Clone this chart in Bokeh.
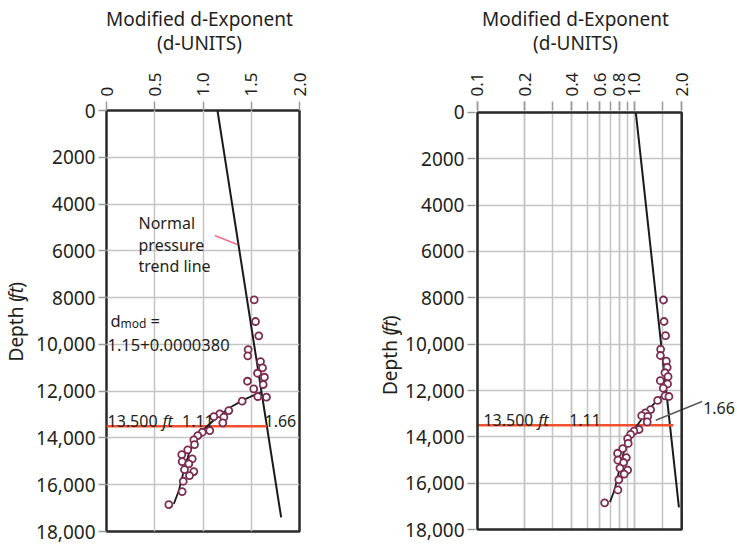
import math

from bokeh.embed import file_html
from bokeh.layouts import column, row
from bokeh.models import BoxAnnotation, CustomJSTickFormatter, FixedTicker, Grid, Label, Range1d
from bokeh.plotting import figure
from bokeh.resources import INLINE

# ---- data -------------------------------------------------------------
# measured modified d-exponent readings
depth_ft = [8094, 9022, 9634, 10220, 10489, 10733, 11002, 11233, 11404, 11575,
            11716, 11900, 12229, 12259, 12430, 12828, 12969, 13085, 13114, 13354,
            13683, 13756, 13897, 14081, 14282, 14509, 14709, 14893, 15009, 15107,
            15351, 15436, 15607, 15851, 16292, 16847]
d_mod = [1.531, 1.544, 1.578, 1.468, 1.464, 1.596, 1.617, 1.565, 1.637, 1.461,
         1.624, 1.526, 1.568, 1.658, 1.406, 1.267, 1.174, 1.112, 1.216, 1.205,
         1.070, 0.992, 0.946, 0.905, 0.912, 0.842, 0.780, 0.888, 0.784, 0.853,
         0.808, 0.905, 0.860, 0.795, 0.784, 0.646]

# fitted curve through the overpressured section
curve_depth = [12045, 12114, 12371, 12687, 13114, 13542, 14038, 14680, 15394, 16249, 16817]
curve_d = [1.60, 1.56, 1.42, 1.285, 1.147, 1.03, 0.922, 0.853, 0.802, 0.75, 0.698]

# normal pressure trend lines (linear panel, log panel)
trend_lin_depth = [0, 17400]
trend_lin_d = [1.15, 1.81]
trend_log_depth = [0, 17040]
trend_log_d = [1.02, 1.92]

# pressure-top marker at 13,500 ft
marker_depth = 13500
marker_lin_d = [0.0, 1.66]
marker_log_d = [0.1, 1.77]

# axis extents and tick values
depth_span = [0, 18000]
lin_span = [0.0, 2.0]
log_span = [0.1, 2.0]
depth_ticks = [0, 2000, 4000, 6000, 8000, 10000, 12000, 14000, 16000, 18000]
lin_ticks = [0.0, 0.5, 1.0, 1.5, 2.0]
log_ticks = [0.1, 0.2, 0.4, 0.6, 0.8, 1.0, 2.0]
log_grid = [0.1, 0.2, 0.3, 0.4, 0.5, 0.6, 0.7, 0.8, 0.9, 1.0, 1.5, 2.0]

# ---- page geometry (pixels) ------------------------------------------------
FONT = "Noto Sans"
INK = "#231f20"
GRID = "#c4c4c4"
FRAME_COLOR = "#2a2a2a"
PT_COLOR = "#7b2d50"
RED = "#f1512f"

PAGE_W, PAGE_H = 737, 545
HEAD_H = 55                       # strip holding the two-line titles
ROW_H = PAGE_H - HEAD_H
FRAME_TOP = 110                   # page y of the plot boxes' top edge
FRAME_H = 421

W_D1 = 31                         # strip for left depth label
L_LEFT, L_FRAME, L_RIGHT = 75, 193, 20
L_X0 = W_D1 + L_LEFT              # page x of left box

R_X0 = 476                        # page x of the log box (0.1)
R_BOX = 205                       # page width of the log box (0.1 .. 2.0)
R_LEFT = 72
R_CANVAS_X0 = R_X0 - 2            # log panel canvas starts 2 px outside its box
D2_X0 = W_D1 + L_LEFT + L_FRAME + L_RIGHT
W_D2 = R_CANVAS_X0 - R_LEFT - D2_X0


def lx(px):
    return (px - L_X0) / L_FRAME * (lin_span[1] - lin_span[0])


def rx(px):
    return 10 ** (math.log10(log_span[0]) +
                  (px - R_X0) / R_BOX * math.log10(log_span[1] / log_span[0]))


def dy(py):
    return (py - FRAME_TOP) / FRAME_H * (depth_span[1] - depth_span[0])


def strip(width, height, x0, y0):
    """Blank figure whose data coordinates are page pixels."""
    f = figure(width=width, height=height,
               x_range=Range1d(x0, x0 + width), y_range=Range1d(y0 + height, y0),
               x_axis_type=None, y_axis_type=None,
               output_backend="svg", toolbar_location=None,
               min_border_left=0, min_border_right=0,
               min_border_top=0, min_border_bottom=0,
               background_fill_color="white", border_fill_color="white")
    f.outline_line_color = None
    return f


def add_text(p, text, x, y, size="16px", align="left", baseline="alphabetic",
             angle=0.0, style="normal", color=INK):
    p.add_layout(Label(x=x, y=y, text=text, text_font=FONT, text_font_size=size,
                       text_align=align, text_baseline=baseline, angle=angle,
                       text_font_style=style, text_color=color))


def add_depth_label(p, x_px, y_mid):
    # "Depth (" upright, "ft" italic, ")" upright; read bottom to top
    start = y_mid + 42.5
    kw = dict(size="19px", align="center", baseline="middle", angle=math.pi / 2)
    add_text(p, "Depth (", x_px, start - 32.5, **kw)
    add_text(p, "ft", x_px, start - 74, style="italic", **kw)
    add_text(p, ")", x_px, start - 83.5, **kw)


depth_fmt = CustomJSTickFormatter(code="""
const n = Math.round(tick);
const s = String(n);
return n < 10000 ? s : s.slice(0, s.length - 3) + "," + s.slice(s.length - 3);
""")


def style_axes(p):
    xax, yax = p.xaxis[0], p.yaxis[0]
    for ax in (xax, yax):
        ax.axis_line_color = None
        ax.major_tick_in = 0
        ax.minor_tick_in = 0
        ax.major_tick_line_color = "#9a9a9a"
        ax.major_tick_line_width = 1.5
        ax.major_label_text_font = FONT
        ax.major_label_text_color = INK
    yax.ticker = FixedTicker(ticks=depth_ticks)
    yax.formatter = depth_fmt
    yax.major_tick_out = 8
    yax.major_label_standoff = 3
    yax.major_label_text_font_size = "19px"
    xax.major_tick_out = 9
    xax.major_label_standoff = 5
    xax.major_label_orientation = math.pi / 2
    xax.major_label_text_font_size = "17px"
    p.xgrid.grid_line_color = GRID
    p.xgrid.grid_line_width = 1.5
    p.ygrid.grid_line_color = GRID
    p.ygrid.grid_line_width = 1.5


# ---- titles ---------------------------------------------------------------------
head = strip(PAGE_W, HEAD_H, 0, 0)
for cx in (199, 575):
    add_text(head, "Modified d-Exponent", cx, 18, size="19px", align="center",
             baseline="middle")
    add_text(head, "(d-UNITS)", cx, 42, size="19px", align="center", baseline="middle")

# ---- depth labels ---------------------------------------------------------------
d1 = strip(W_D1, ROW_H, 0, HEAD_H)
add_depth_label(d1, 15.5, 299)
d2 = strip(W_D2, ROW_H, D2_X0, HEAD_H)
add_depth_label(d2, D2_X0 + W_D2 - 13, 338)

# ---- linear panel -------------------------------------------------------------
p1 = figure(width=L_LEFT + L_FRAME + L_RIGHT, height=ROW_H,
            x_range=Range1d(*lin_span), y_range=Range1d(depth_span[1], depth_span[0]),
            x_axis_location="above", output_backend="svg", toolbar_location=None,
            min_border_left=L_LEFT, min_border_right=L_RIGHT,
            min_border_top=FRAME_TOP - HEAD_H,
            min_border_bottom=ROW_H - (FRAME_TOP - HEAD_H) - FRAME_H,
            background_fill_color="white", border_fill_color="white")
p1.outline_line_color = FRAME_COLOR
p1.outline_line_width = 2.5
style_axes(p1)
p1.xaxis.ticker = FixedTicker(ticks=lin_ticks)
p1.xaxis.formatter = CustomJSTickFormatter(code='return tick === 0 ? "0" : tick.toFixed(1);')

p1.line(trend_lin_d, trend_lin_depth, line_color="#1a1a1a", line_width=2)
p1.line(marker_lin_d, [marker_depth, marker_depth], line_color=RED, line_width=2.5)
p1.line(curve_d, curve_depth, line_color="#1a1a1a", line_width=1.8)
p1.scatter(d_mod, depth_ft, marker="circle", size=7, fill_color="white",
           line_color=PT_COLOR, line_width=1.8)
p1.line([lx(214.3), lx(236.7)], [dy(235), dy(244)], line_color="#ef6f8f", line_width=1.5)

add_text(p1, "Normal", lx(138), dy(222.5))
add_text(p1, "pressure", lx(138), dy(244))
add_text(p1, "trend line", lx(138), dy(265.5))
add_text(p1, "d", lx(110), dy(319.5), size="16.5px")
add_text(p1, "mod", lx(120), dy(323), size="12px")
add_text(p1, "=", lx(150), dy(319.5), size="16.5px")
add_text(p1, "1.15+0.0000380", lx(107), dy(344), size="16.5px")
add_text(p1, "13.500", lx(107), dy(420))
add_text(p1, "ft", lx(162), dy(420), style="italic")
add_text(p1, "1.11", lx(181.5), dy(420))
add_text(p1, "1.66", lx(264), dy(420))

# ---- log panel ------------------------------------------------------------------
# The frame runs on to the page edge so the 1.66 callout can sit right of the
# box; the box itself is drawn as an annotation over 0.1..2.0 x 0..18000 ft.
r_top, r_bottom = FRAME_TOP - 2, FRAME_TOP + FRAME_H + 2
p2 = figure(width=R_LEFT + PAGE_W - R_CANVAS_X0, height=ROW_H, x_axis_type="log",
            x_range=Range1d(rx(R_CANVAS_X0), rx(PAGE_W)),
            y_range=Range1d(dy(r_bottom), dy(r_top)),
            x_axis_location="above", output_backend="svg", toolbar_location=None,
            min_border_left=R_LEFT, min_border_right=0,
            min_border_top=r_top - HEAD_H, min_border_bottom=PAGE_H - r_bottom,
            background_fill_color="white", border_fill_color="white")
p2.outline_line_color = None
style_axes(p2)
p2.xaxis.ticker = FixedTicker(ticks=log_ticks, minor_ticks=log_grid)
p2.xaxis.formatter = CustomJSTickFormatter(code="return tick.toFixed(1);")
p2.xaxis.minor_tick_out = 9
p2.xaxis.minor_tick_line_color = "#9a9a9a"
p2.xaxis.minor_tick_line_width = 1.5
p2.xgrid.minor_grid_line_color = GRID
p2.xgrid.minor_grid_line_width = 1.5

if "cross_bounds" in Grid.properties():
    p2.ygrid.cross_bounds = tuple(log_span)
    p2.xgrid.cross_bounds = tuple(depth_span)
else:
    p2.ygrid.grid_line_color = None
    p2.segment(x0=[log_span[0]] * len(depth_ticks), y0=depth_ticks,
               x1=[log_span[1]] * len(depth_ticks), y1=depth_ticks,
               line_color=GRID, line_width=1.5)

p2.line(trend_log_d, trend_log_depth, line_color="#1a1a1a", line_width=2)
p2.line(marker_log_d, [marker_depth, marker_depth], line_color=RED, line_width=2.5)
p2.line(curve_d, curve_depth, line_color="#1a1a1a", line_width=1.8)
p2.scatter(d_mod, depth_ft, marker="circle", size=7, fill_color="white",
           line_color=PT_COLOR, line_width=1.8)
p2.add_layout(BoxAnnotation(left=log_span[0], right=log_span[1],
                            top=depth_span[0], bottom=depth_span[1],
                            fill_color=None, fill_alpha=0,
                            line_color=FRAME_COLOR, line_alpha=1.0, line_width=2.5))

add_text(p2, "13.500", rx(482), dy(420))
add_text(p2, "ft", rx(537), dy(420), style="italic")
add_text(p2, "1.11", rx(568), dy(420))

# callout for the trend value at 13,500 ft
p2.line([rx(655), rx(701.5)], [dy(420.7), dy(401.7)], line_color="#5a5a5a", line_width=1.5)
add_text(p2, "1.66", rx(702.5), dy(408.5))

layout = column(head, row(d1, p1, d2, p2, spacing=0), spacing=0)
open("out.html", "w").write(file_html(layout, INLINE))
